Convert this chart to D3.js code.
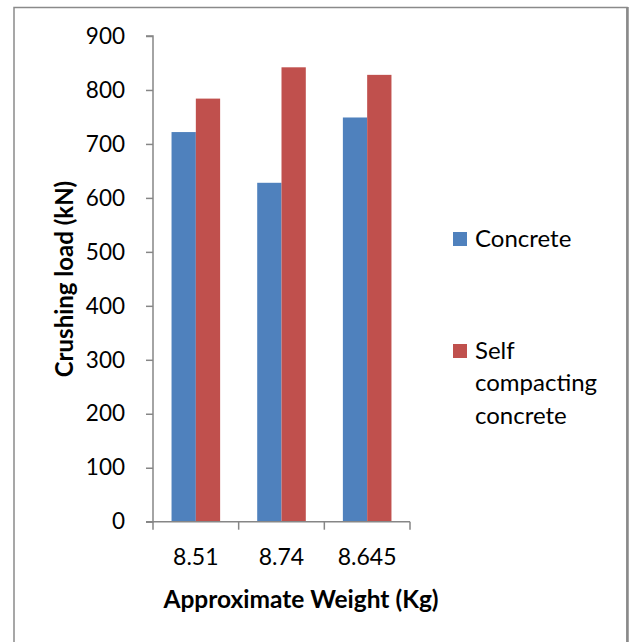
<!DOCTYPE html>
<html>
<head>
<meta charset="utf-8">
<script src="https://cdn.jsdelivr.net/npm/d3@7/dist/d3.min.js"></script>
<style>
  html, body { margin: 0; padding: 0; background: #fff; }
  svg { display: block; }
  text { font-family: Lato, "Open Sans", sans-serif; fill: #000; }
</style>
</head>
<body>
<svg id="chart" width="635" height="642"></svg>
<script>
// Crushing load by approximate weight
const categories = ["8.51", "8.74", "8.645"];
const seriesNames = ["Concrete", "Self compacting concrete"];
const concrete = [722, 628, 749];
const selfCompacting = [784, 842, 828];
const yTicks = [0, 100, 200, 300, 400, 500, 600, 700, 800, 900];
const colors = ["#4F81BD", "#C0504D"];

const seriesValues = [concrete, selfCompacting];

const svg = d3.select("#chart");

// Outer frame
svg.append("rect")
  .attr("x", 14).attr("y", 7.5)
  .attr("width", 613).attr("height", 660)
  .attr("fill", "none")
  .attr("stroke", "#8a8a8a")
  .attr("stroke-width", 1.5);
svg.append("line")
  .attr("x1", 627.5).attr("x2", 627.5)
  .attr("y1", 7).attr("y2", 642)
  .attr("stroke", "#8a8a8a").attr("stroke-width", 2.5);

const plot = { left: 153, right: 410, top: 36, bottom: 521.7 };

const x = d3.scaleBand()
  .domain(categories)
  .range([plot.left, plot.right])
  .padding(0);

const xInner = d3.scaleBand()
  .domain(d3.range(seriesNames.length))
  .range([0, x.bandwidth()])
  .paddingInner(0)
  .paddingOuter(0.763);

const y = d3.scaleLinear()
  .domain([0, 900])
  .range([plot.bottom, plot.top]);

// Bars
const groups = svg.append("g").selectAll("g")
  .data(categories)
  .join("g")
  .attr("transform", d => `translate(${x(d)},0)`);

groups.selectAll("rect")
  .data((d, i) => seriesValues.map((vals, s) => ({ s, v: vals[i] })))
  .join("rect")
  .attr("x", d => xInner(d.s))
  .attr("width", xInner.bandwidth())
  .attr("y", d => y(d.v))
  .attr("height", d => y(0) - y(d.v))
  .attr("fill", d => colors[d.s]);

// Y axis
const yAxis = d3.axisLeft(y)
  .tickValues(yTicks)
  .tickSize(7)
  .tickPadding(21)
  .tickFormat(d3.format("d"));

const gy = svg.append("g")
  .attr("transform", `translate(${plot.left},0)`)
  .call(yAxis);
gy.select(".domain").attr("stroke", "#868686").attr("stroke-width", 1.5)
  .attr("d", `M-7,${y(900)}H0V${y(0)}H-7`);
gy.selectAll(".tick line").attr("stroke", "#868686").attr("stroke-width", 1.5);
gy.selectAll(".tick text")
  .style("font-family", "Lato, sans-serif")
  .style("font-size", "22.5px")
  .attr("fill", "#000");

// X axis: ticks sit on the category boundaries
const gx = svg.append("g")
  .attr("transform", `translate(0,${plot.bottom})`);
gx.append("line")
  .attr("x1", plot.left).attr("x2", plot.right)
  .attr("y1", 0).attr("y2", 0)
  .attr("stroke", "#868686").attr("stroke-width", 1.5);
const boundaries = categories.map(c => x(c)).concat([x(categories[categories.length - 1]) + x.bandwidth()]);
gx.selectAll("line.tk")
  .data(boundaries)
  .join("line")
  .attr("class", "tk")
  .attr("x1", d => d).attr("x2", d => d)
  .attr("y1", 0).attr("y2", 8)
  .attr("stroke", "#868686").attr("stroke-width", 1.5);
gx.selectAll("text")
  .data(categories)
  .join("text")
  .attr("x", d => x(d) + x.bandwidth() / 2)
  .attr("y", 43.5)
  .attr("text-anchor", "middle")
  .style("font-size", "23px")
  .text(d => d);

// Axis titles
svg.append("text")
  .attr("x", 301)
  .attr("y", 608)
  .attr("text-anchor", "middle")
  .style("font-size", "24.5px")
  .style("font-weight", "bold")
  .text("Approximate Weight (Kg)");

svg.append("text")
  .attr("transform", `translate(73,279) rotate(-90)`)
  .attr("text-anchor", "middle")
  .style("font-size", "24px")
  .style("font-weight", "bold")
  .text("Crushing load (kN)");

// Legend
const legendEntries = [
  { color: colors[0], lines: ["Concrete"], y: 232 },
  { color: colors[1], lines: ["Self", "compacting", "concrete"], y: 344 }
];
const legend = svg.append("g");
legendEntries.forEach(e => {
  legend.append("rect")
    .attr("x", 453).attr("y", e.y)
    .attr("width", 14).attr("height", 14)
    .attr("fill", e.color);
  e.lines.forEach((t, i) => {
    legend.append("text")
      .attr("x", 475)
      .attr("y", e.y + 14.5 + i * 32.5)
      .style("font-size", "24px")
      .text(t);
  });
});
</script>
</body>
</html>
